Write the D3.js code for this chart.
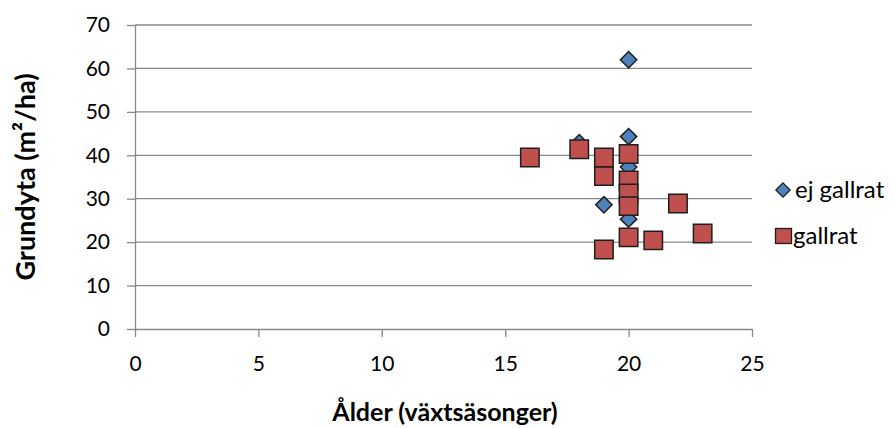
<!DOCTYPE html>
<html><head><meta charset="utf-8">
<script src="https://cdn.jsdelivr.net/npm/d3@7"></script>
<style>body{margin:0;background:#fff}svg{display:block}text{font-family:Lato,"Open Sans",sans-serif;fill:#000}</style>
</head><body><svg id="c" width="894" height="428"></svg>
<script>
const ejAge = [20, 20, 18, 20, 19, 20];
const ejBasal = [62, 44.3, 42.9, 37.3, 28.6, 25.3];
const galAge = [16, 18, 19, 19, 19, 20, 20, 20, 20, 20, 21, 22, 23];
const galBasal = [39.5, 41.4, 39.5, 35.2, 18.3, 40.3, 34.2, 31.2, 28.3, 21.1, 20.4, 28.9, 22.0];
const xTicks = [0, 5, 10, 15, 20, 25];
const yTicks = [0, 10, 20, 30, 40, 50, 60, 70];
const seriesNames = ["ej gallrat", "gallrat"];
const xTitle = "Ålder (växtsäsonger)";
const yTitle = "Grundyta (m²/ha)";

const svg = d3.select("#c");
const x = d3.scaleLinear().domain([0, 25]).range([135, 752]);
const y = d3.scaleLinear().domain([0, 70]).range([329, 25]);
const gray = "#898989";
const FONT = "Lato, 'Open Sans', sans-serif";

svg.append("g").selectAll("line").data(yTicks.filter(d => d > 0)).join("line")
  .attr("x1", x(0)).attr("x2", x(25)).attr("y1", d => y(d)).attr("y2", d => y(d))
  .attr("stroke", gray).attr("stroke-width", 1.3);

const ya = svg.append("g").attr("transform", `translate(${x(0)},0)`)
  .call(d3.axisLeft(y).tickValues(yTicks).tickSize(8).tickSizeOuter(0).tickPadding(17));
ya.select(".domain").attr("stroke", gray).attr("stroke-width", 1.3);
ya.selectAll(".tick line").attr("stroke", gray).attr("stroke-width", 1.3);
ya.selectAll("text").attr("font-size", 21).attr("font-family", FONT).attr("fill", "#000");

const xa = svg.append("g").attr("transform", `translate(0,${y(0)})`)
  .call(d3.axisBottom(x).tickValues(xTicks).tickSize(8).tickSizeOuter(0).tickPadding(19));
xa.select(".domain").attr("stroke", gray).attr("stroke-width", 1.3);
xa.selectAll(".tick line").attr("stroke", gray).attr("stroke-width", 1.3);
xa.selectAll("text").attr("font-size", 21).attr("font-family", FONT).attr("fill", "#000");

const diamond = d3.symbol().type(d3.symbolDiamond2).size(170)();
const square = d3.symbol().type(d3.symbolSquare).size(340)();
svg.append("g").selectAll("path").data(ejAge.map((a, i) => [a, ejBasal[i]])).join("path")
  .attr("d", diamond).attr("transform", d => `translate(${x(d[0])},${y(d[1])})`)
  .attr("fill", "#4F81BD").attr("stroke", "#1e1e1e").attr("stroke-width", 1.5);
svg.append("g").selectAll("path").data(galAge.map((a, i) => [a, galBasal[i]])).join("path")
  .attr("d", square).attr("transform", d => `translate(${x(d[0])},${y(d[1])})`)
  .attr("fill", "#C0504D").attr("stroke", "#1e1e1e").attr("stroke-width", 1.5);

const lg = svg.append("g");
lg.append("path").attr("d", d3.symbol().type(d3.symbolDiamond2).size(130)())
  .attr("transform", "translate(783,190)").attr("fill", "#4F81BD").attr("stroke", "#1e1e1e").attr("stroke-width", 1.3);
lg.append("rect").attr("x", 775.5).attr("y", 228.5).attr("width", 16).attr("height", 15)
  .attr("fill", "#C0504D").attr("stroke", "#1e1e1e").attr("stroke-width", 1.3);
lg.append("text").attr("x", 795).attr("y", 198).attr("font-size", 24).text(seriesNames[0]);
lg.append("text").attr("x", 793).attr("y", 244).attr("font-size", 24).text(seriesNames[1]);

svg.append("text").attr("x", 445).attr("y", 421).attr("text-anchor", "middle")
  .attr("font-size", 25).attr("font-weight", "bold").text(xTitle);
svg.append("text").attr("transform", "translate(35,177) rotate(-90)").attr("text-anchor", "middle")
  .attr("font-size", 27).attr("font-weight", "bold").text(yTitle);
</script></body></html>
